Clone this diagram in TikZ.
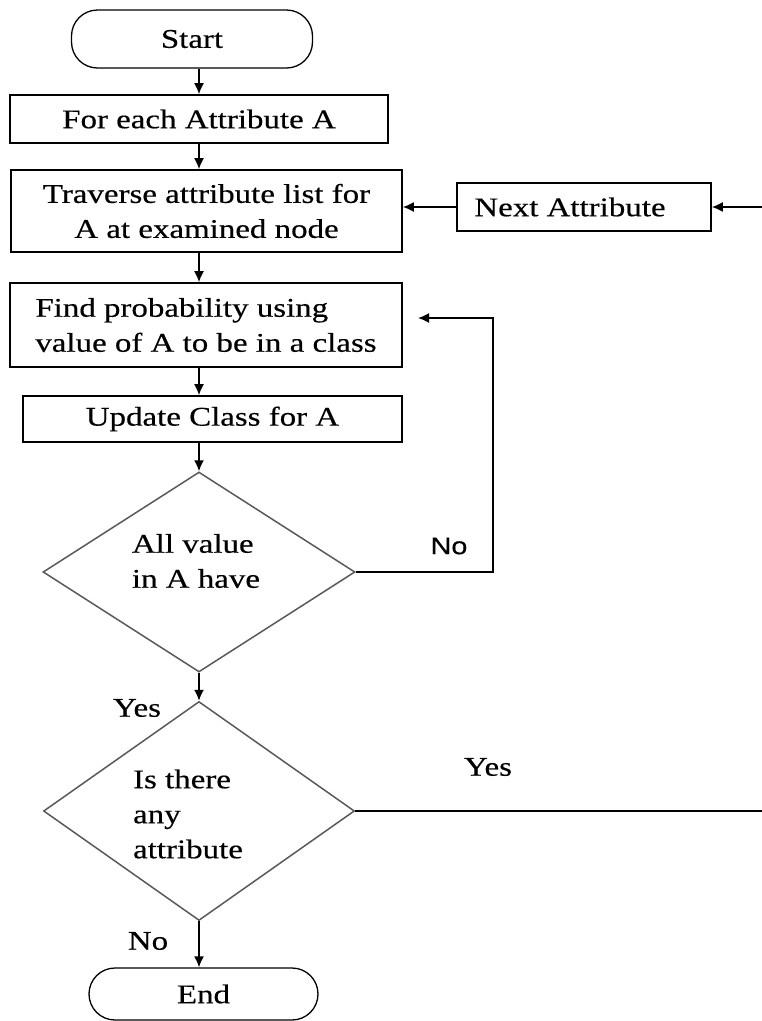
\documentclass[tikz,border=0pt]{standalone}
\usepackage{fontspec}
\setmainfont{Liberation Serif}[FakeStretch=1.22,FakeBold=0.4]
\newfontfamily\sanslab{Liberation Sans}[FakeStretch=1.2,FakeBold=0.4]
\usetikzlibrary{arrows.meta,shapes.geometric}
\begin{document}
\begin{tikzpicture}[x=1pt,y=-1pt,
  every node/.style={font=\fontsize{27}{35}\selectfont},
  box/.style={draw=black,line width=1.6pt,inner sep=0pt,align=center},
  term/.style={draw=black,line width=1.3pt,rounded corners=26pt,inner sep=0pt},
  dec/.style={draw=black!65,line width=1.5pt,diamond,inner sep=0pt},
  arr/.style={line width=1.6pt,-{Latex[length=11pt,width=10pt]}},
  plain/.style={line width=1.6pt},
  lbl/.style={inner sep=0pt,align=left}]
\useasboundingbox (0,0) rectangle (762,1021);
% nodes
\node[term,minimum width=241pt,minimum height=58pt] (start) at (192,39) {Start};
\node[box,minimum width=378pt,minimum height=48pt] (foreach) at (199,119) {For each Attribute A};
\node[box,minimum width=391pt,minimum height=82pt] (traverse) at (206.5,211) {Traverse attribute list for\\A at examined node};
\node[box,minimum width=254pt,minimum height=48pt] (next) at (584,207) {Next Attribute\hspace*{28pt}};
\node[box,align=left,minimum width=392pt,minimum height=84pt] (find) at (206,325) {Find probability using\\value of A to be in a class};
\node[box,minimum width=379pt,minimum height=46pt] (update) at (212.5,419) {Update Class for A};
\node[dec,minimum width=312pt,minimum height=200pt] (d1) at (199,572) {};
\node[lbl] (d1t) at (196,561) {All value\\in A have};
\node[dec,minimum width=311pt,minimum height=219pt] (d2) at (199,811) {};
\node[lbl] (d2t) at (188,814) {Is there\\any\\attribute};
\node[term,minimum width=229pt,minimum height=52pt] (end) at (203.5,994) {End};
% labels
\node[inner sep=0pt,font=\sanslab\fontsize{24}{28}\selectfont] (no1) at (449,546) {No};
\node[inner sep=0pt] (yes1) at (137,708) {Yes};
\node[inner sep=0pt] (yes2) at (488,767) {Yes};
\node[inner sep=0pt] (no2) at (148,941) {No};
% free ends
\coordinate (rtop) at (762,207);
\coordinate (rbot) at (762,811);
\coordinate (fbc) at (493,318);
\coordinate (fbt) at (418,318);
% connectors
\draw[arr] (start.south -| foreach.north) -- (foreach.north);
\draw[arr] (foreach.south) -- (foreach.south |- traverse.north);
\draw[arr] (foreach.south |- traverse.south) -- (foreach.south |- find.north);
\draw[arr] (foreach.south |- find.south) -- (foreach.south |- update.north);
\draw[arr] (foreach.south |- update.south) -- (d1.north);
\draw[arr] (d1.south) -- (d2.north);
\draw[arr] (d2.south) -- (d2.south |- end.north);
\draw[arr] (next.west) -- (next.west -| traverse.east);
\draw[arr] (rtop) -- (next.east);
\draw[arr] (d1.east) -| (fbc) -- (fbt);
\draw[plain] (d2.east) -- (rbot);
\end{tikzpicture}
\end{document}
